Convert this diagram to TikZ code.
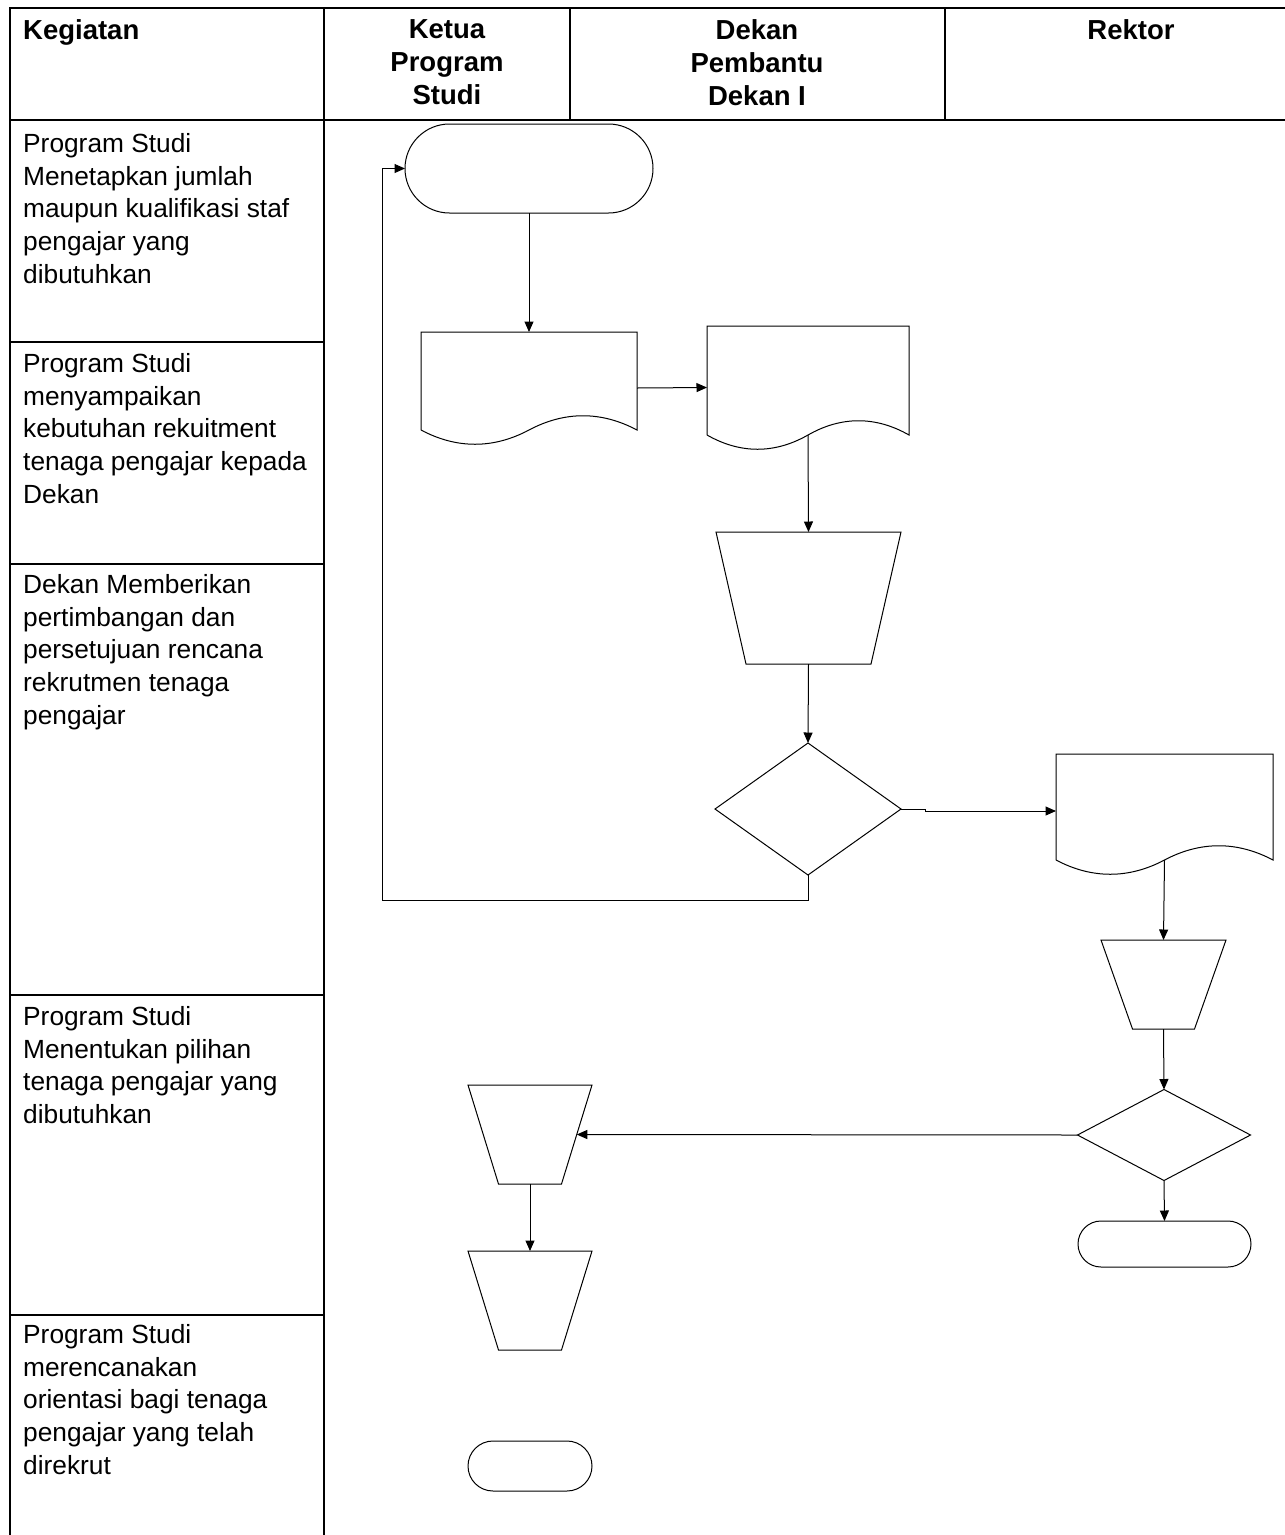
\documentclass[tikz,border=0pt]{standalone}
\usepackage{fontspec}
\setmainfont{Liberation Sans}
\usetikzlibrary{arrows.meta,calc,shapes.geometric}
\tikzset{
  tbl/.style={line width=2.7pt, line cap=rect},
  box/.style={rectangle, inner sep=0pt, outer sep=0pt, draw=none},
  term/.style={rectangle, draw, line width=1pt, inner sep=0pt, outer sep=0pt},
  dia/.style={diamond, draw, line width=1pt, inner sep=0pt, outer sep=0pt},
  arr/.style={line width=1pt, -{Triangle[length=10.5pt,width=9pt]}},
  head/.style={inner sep=0pt, font=\fontsize{27.5}{33}\selectfont\bfseries, align=center, anchor=north},
  body/.style={inner sep=0pt, font=\fontsize{26.3}{32.8}\selectfont, align=left, anchor=north west}
}
\newcommand{\mydocshape}[1]{%
  \draw[line width=1pt] (#1.south west) -- (#1.north west) -- (#1.north east) -- (#1.south east)
    .. controls ($(#1.south east)!0.33!(#1.south)+(0,-19)$) and ($(#1.south east)!0.67!(#1.south)+(0,-19)$) .. (#1.south)
    .. controls ($(#1.south)!0.33!(#1.south west)+(0,19)$) and ($(#1.south)!0.67!(#1.south west)+(0,19)$) .. (#1.south west);}
\newcommand{\mytrapshape}[2]{%
  \draw[line width=1pt] (#1.north west) -- (#1.north east) -- ([xshift=-#2]#1.south east) -- ([xshift=#2]#1.south west) -- cycle;}
\begin{document}
\begin{tikzpicture}[x=1pt,y=-1pt]
\useasboundingbox (0,0) rectangle (1285,1535);
% table
\draw[tbl] (10,8) -- (1285,8);
\draw[tbl] (10,120) -- (1285,120);
\draw[tbl] (10,8) -- (10,1535);
\draw[tbl] (324,8) -- (324,1535);
\draw[tbl] (570,8) -- (570,120);
\draw[tbl] (945,8) -- (945,120);
\draw[tbl] (10,342) -- (324,342);
\draw[tbl] (10,564) -- (324,564);
\draw[tbl] (10,995) -- (324,995);
\draw[tbl] (10,1315) -- (324,1315);
% header
\node[head, anchor=north west, align=left] (hk) at (23,19) {Kegiatan};
\node[head] (h1) at (447,19) {Ketua\\Program\\Studi};
\node[head] (h2) at (757,19) {Dekan\\Pembantu\\Dekan I};
\node[head] (h3) at (1131,19) {Rektor};
% activities
\node[body] (k1) at (23,133) {Program Studi\\Menetapkan jumlah\\maupun kualifikasi staf\\pengajar yang\\dibutuhkan};
\node[body] (k2) at (23,353) {Program Studi\\menyampaikan\\kebutuhan rekuitment\\tenaga pengajar kepada\\Dekan};
\node[body] (k3) at (23,574) {Dekan Memberikan\\pertimbangan dan\\persetujuan rencana\\rekrutmen tenaga\\pengajar};
\node[body] (k4) at (23,1006) {Program Studi\\Menentukan pilihan\\tenaga pengajar yang\\dibutuhkan};
\node[body] (k5) at (23,1324) {Program Studi\\merencanakan\\orientasi bagi tenaga\\pengajar yang telah\\direkrut};
% shapes
\node[term, rounded corners=44.5pt, minimum width=248pt, minimum height=89pt] (s) at (529,168.5) {};
\node[box, minimum width=216pt, minimum height=98pt] (doc1) at (529,381) {};
\mydocshape{doc1}
\node[box, minimum width=202pt, minimum height=109pt] (doc2) at (808,380.5) {};
\mydocshape{doc2}
\node[box, minimum width=185pt, minimum height=132pt] (t1) at (808.5,598) {};
\mytrapshape{t1}{30pt}
\node[dia, minimum width=186pt, minimum height=132pt] (d1) at (808,809) {};
\node[box, minimum width=217pt, minimum height=106pt] (doc3) at (1164.5,807) {};
\mydocshape{doc3}
\node[box, minimum width=125pt, minimum height=89pt] (t2) at (1163.5,984.5) {};
\mytrapshape{t2}{31.5pt}
\node[dia, minimum width=173pt, minimum height=91pt] (d2) at (1164,1135) {};
\node[term, rounded corners=23pt, minimum width=173pt, minimum height=46pt] (e2) at (1164.5,1244) {};
\node[box, minimum width=124pt, minimum height=99pt] (t3) at (530,1134.5) {};
\mytrapshape{t3}{30.5pt}
\node[box, minimum width=124pt, minimum height=99pt] (t4) at (530,1300.5) {};
\mytrapshape{t4}{30.5pt}
\node[term, rounded corners=25pt, minimum width=124pt, minimum height=50pt] (e3) at (530,1466) {};
% connectors
\coordinate (j1) at (925,809);
\coordinate (lb) at (382,900);
\draw[arr] (s.south) -- (doc1.north);
\draw[arr] ([yshift=-7pt]doc1.east) -- ([yshift=-7pt]doc2.west);
\draw[arr] (doc2.south) -- (t1.north);
\draw[arr] (t1.south) -- (d1.north);
\draw[arr] (d1.east) -- (j1) |- ([yshift=-4pt]doc3.west);
\draw[arr] (d1.south) |- (lb) |- (s.west);
\draw[arr] (doc3.south) -- (t2.north);
\draw[arr] (t2.south) -- (d2.north);
\draw[arr] (d2.south) -- (e2.north);
\draw[arr] (d2.west) -- ([xshift=-15.25pt]t3.east);
\draw[arr] (t3.south) -- (t4.north);
\end{tikzpicture}
\end{document}
